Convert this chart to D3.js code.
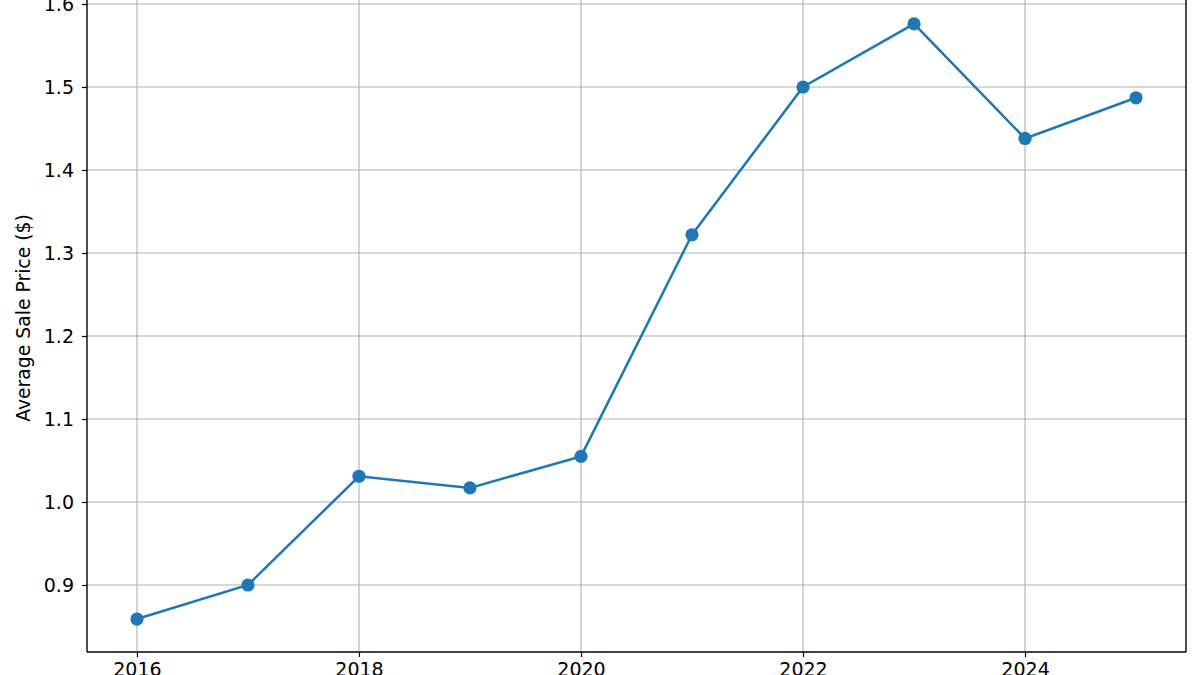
<!DOCTYPE html>
<html>
<head>
<meta charset="utf-8">
<script src="https://cdn.jsdelivr.net/npm/d3@7"></script>
<style>
  body { margin: 0; background: #fff; }
  svg { display: block; font-family: "DejaVu Sans", sans-serif; }
</style>
</head>
<body>
<svg id="chart" width="1200" height="675"></svg>
<script>
// data
const years = [2016, 2017, 2018, 2019, 2020, 2021, 2022, 2023, 2024, 2025];
const prices = [0.859, 0.900, 1.031, 1.017, 1.055, 1.322, 1.500, 1.576, 1.438, 1.487];
const xTicks = [2016, 2018, 2020, 2022, 2024];
const yTicks = [0.9, 1.0, 1.1, 1.2, 1.3, 1.4, 1.5, 1.6];

const svg = d3.select("#chart");
const plotLeft = 87, plotRight = 1186, plotBottom = 652, plotTop = -40;

const x = d3.scaleLinear().domain([2015.55, 2025.45]).range([plotLeft, plotRight]);
// 1.6 sits at y=4, 0.1 step is ~83px
const y = d3.scaleLinear().domain([0.9, 1.6]).range([585, 4]);

const grid = svg.append("g").attr("stroke", "#b0b0b0").attr("stroke-width", 1.1);
grid.selectAll(".gx").data(xTicks).enter().append("line")
  .attr("x1", d => x(d)).attr("x2", d => x(d))
  .attr("y1", plotTop).attr("y2", plotBottom);
grid.selectAll(".gy").data(yTicks).enter().append("line")
  .attr("x1", plotLeft).attr("x2", plotRight)
  .attr("y1", d => y(d)).attr("y2", d => y(d));

// axes
const xAxis = d3.axisBottom(x).tickValues(xTicks).tickFormat(d3.format("d"))
  .tickSize(5).tickPadding(6);
const gx = svg.append("g").attr("transform", `translate(0,${plotBottom})`).call(xAxis);
const yAxis = d3.axisLeft(y).tickValues(yTicks).tickFormat(d3.format(".1f"))
  .tickSize(5).tickPadding(8);
const gy = svg.append("g").attr("transform", `translate(${plotLeft},0)`).call(yAxis);
[gx, gy].forEach(g => {
  g.select(".domain").remove();
  g.selectAll(".tick line").attr("stroke", "#000").attr("stroke-width", 1.2);
  g.selectAll(".tick text").attr("fill", "#000").style("font-size", "19px")
    .style("font-family", "DejaVu Sans, sans-serif");
});

// spines
const spines = svg.append("g").attr("stroke", "#000").attr("stroke-width", 1.4).attr("fill", "none");
spines.append("line").attr("x1", plotLeft).attr("x2", plotLeft).attr("y1", plotTop).attr("y2", plotBottom);
spines.append("line").attr("x1", plotRight).attr("x2", plotRight).attr("y1", plotTop).attr("y2", plotBottom);
spines.append("line").attr("x1", plotLeft).attr("x2", plotRight).attr("y1", plotBottom).attr("y2", plotBottom);

// line + markers
const line = d3.line().x((d, i) => x(years[i])).y(d => y(d));
svg.append("path").datum(prices)
  .attr("fill", "none").attr("stroke", "#1f77b4").attr("stroke-width", 2.5)
  .attr("d", line);
svg.selectAll(".dot").data(prices).enter().append("circle")
  .attr("cx", (d, i) => x(years[i])).attr("cy", d => y(d))
  .attr("r", 6.6).attr("fill", "#1f77b4");

// y label
svg.append("text")
  .attr("transform", "translate(30,318) rotate(-90)")
  .attr("text-anchor", "middle")
  .style("font-size", "18.8px")
  .text("Average Sale Price ($)");
</script>
</body>
</html>
